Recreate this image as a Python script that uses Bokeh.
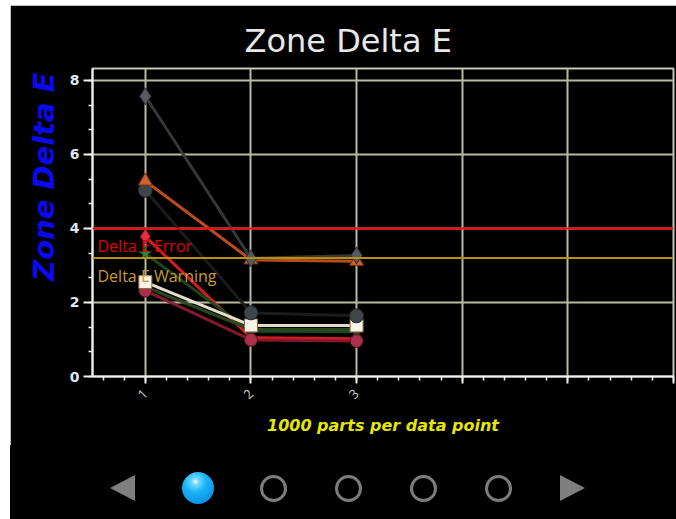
import math
from bokeh.plotting import figure
from bokeh.models import Range1d, SingleIntervalTicker, Span, Label, Title, Div
from bokeh.layouts import column
from bokeh.embed import file_html
from bokeh.resources import INLINE

# ---------------- data ----------------
chart_title = "Zone Delta E"
y_title = "Zone Delta E"
x_title = "1000 parts per data point"
x_points = [1, 2, 3]
x_tick_labels = ["1", "2", "3"]

gray_diamond = [7.57, 3.19, 3.27]
orange_triangle = [5.28, 3.15, 3.11]
dark_circle = [5.03, 1.72, 1.64]
red_diamond = [3.78, 1.05, 1.02]
green_star = [3.32, 1.22, 1.21]
olive_circle = [2.42, 1.27, 1.27]
cream_square = [2.55, 1.38, 1.38]
maroon_circle = [2.32, 0.99, 0.96]

threshold_values = [4.0, 3.2]
threshold_names = ["Delta E Error", "Delta E Warning"]

n_pages = 5
current_page = 0

# ---------------- layout ----------------
MARGIN_TOP = 5
MARGIN_LEFT = 10
W = 666
H_MAIN = 440
H_PAGER = 74
BL = 82   # left border (frame starts here)
BR = 3
BG = "#000000"

p = figure(width=W, height=H_MAIN,
           x_range=Range1d(0.5, 6.0), y_range=Range1d(0, 8.32),
           output_backend="svg", toolbar_location=None,
           min_border_left=BL, min_border_right=BR,
           min_border_top=63, min_border_bottom=69)
p.background_fill_color = BG
p.border_fill_color = BG
p.outline_line_color = "#c8c8b4"
p.outline_line_width = 2

p.title.text = chart_title
p.title.align = "left"
p.title.offset = 152
p.title.standoff = 17
p.title.text_font = "DejaVu Sans"
p.title.text_font_style = "normal"
p.title.text_font_size = "32px"
p.title.text_color = "#e8e8e8"

# y axis title (placed on the left, toward the top)
p.add_layout(Title(text=y_title, align="right", offset=4, standoff=12, text_color="#0a0af0",
                   text_font="DejaVu Sans", text_font_style="bold italic",
                   text_font_size="29px"), "left")

# axes
p.xaxis.ticker = SingleIntervalTicker(interval=1, num_minor_ticks=5)
p.yaxis.ticker = SingleIntervalTicker(interval=2, num_minor_ticks=3)
overrides = {i: "" for i in range(0, 8)}
for xv, lab in zip(x_points, x_tick_labels):
    overrides[xv] = lab
p.xaxis.major_label_overrides = overrides
p.xaxis.major_label_orientation = math.pi / 4

for ax in (p.xaxis, p.yaxis):
    ax.axis_line_color = "#f0f0f0"
    ax.axis_line_width = 2
    ax.major_tick_line_color = "#f0f0f0"
    ax.major_tick_line_width = 2
    ax.minor_tick_line_color = "#f0f0f0"
    ax.minor_tick_line_width = 1.5
    ax.major_tick_in = 0
    ax.minor_tick_in = 0
    ax.minor_tick_out = 4

p.xaxis.major_tick_out = 7
p.yaxis.major_tick_out = 9
p.xaxis.major_label_text_color = "#d0d0d0"
p.xaxis.major_label_text_font_size = "13px"
p.xaxis.major_label_text_font = "Open Sans"
p.xaxis.major_label_standoff = 8
p.yaxis.major_label_text_color = "#dfe4f0"
p.yaxis.major_label_text_font_size = "14px"
p.yaxis.major_label_text_font_style = "bold"
p.yaxis.major_label_text_font = "DejaVu Sans"
p.yaxis.major_label_standoff = 4

p.xaxis.axis_label = x_title
p.xaxis.axis_label_text_color = "#e6e600"
p.xaxis.axis_label_text_font = "DejaVu Sans"
p.xaxis.axis_label_text_font_style = "bold italic"
p.xaxis.axis_label_text_font_size = "16px"
p.xaxis.axis_label_standoff = 10

p.xgrid.grid_line_color = "#b9b9a2"
p.ygrid.grid_line_color = "#b9b9a2"
p.xgrid.grid_line_width = 2
p.ygrid.grid_line_width = 2

# threshold lines
th_line_colors = ["#ff0000", "#b8900c"]
th_text_colors = ["#e00000", "#c89a30"]
for v, name, lc, tc in zip(threshold_values, threshold_names, th_line_colors, th_text_colors):
    p.add_layout(Span(location=v, dimension="width", line_color=lc, line_width=2))
    p.add_layout(Label(x=p.x_range.start, y=v, x_offset=5, y_offset=-7, text=name,
                       text_baseline="top", text_align="left", text_color=tc,
                       text_font="Open Sans", text_font_size="16px"))

# series (bottom to top)
series = [
    (red_diamond, "#e01e24", "diamond", "#e8303c", "#8a1018", 15),
    (green_star, "#1d4a1d", "star", "#3f7e3f", "#1a3a1a", 14),
    (olive_circle, "#2a4a20", "circle", "#35552a", "#1a2a14", 10),
    (maroon_circle, "#8a1a2c", "circle", "#a8304a", "#5a1020", 13),
    (cream_square, "#efe8d6", "square", "#faf4e6", "#8a6a4a", 13),
    (dark_circle, "#1c1c1e", "circle", "#40454c", "#202328", 14),
    (orange_triangle, "#c4501e", "triangle", "#d0602c", "#7a3010", 14),
    (gray_diamond, "#3a3a3c", "diamond", "#555a62", "#2a2d32", 17),
]
for ys, lc, mk, fc, ec, sz in series:
    p.line(x_points, ys, line_color=lc, line_width=3, line_alpha=0.95)
    p.scatter(x_points, ys, marker=mk, size=sz, fill_color=fc, line_color=ec, line_width=1)

# ---------------- pager (HTML, coordinates relative to the pager box) ----------------
spacing = 75
first_x = 188     # centre of first page dot within the pager box
cy = 43
dot_x = [first_x + spacing * i for i in range(n_pages)]
parts = []
lx = dot_x[0] - spacing - 1
rx = dot_x[-1] + spacing - 1
parts.append(f'<div style="position:absolute;left:{lx-12}px;top:{cy-13}px;width:0;height:0;'
             f'border-top:13px solid transparent;border-bottom:13px solid transparent;'
             f'border-right:25px solid #7f7f7f;"></div>')
parts.append(f'<div style="position:absolute;left:{rx-12}px;top:{cy-13}px;width:0;height:0;'
             f'border-top:13px solid transparent;border-bottom:13px solid transparent;'
             f'border-left:25px solid #7f7f7f;"></div>')
for i, x in enumerate(dot_x):
    if i == current_page:
        d = 32
        parts.append(f'<div style="position:absolute;box-sizing:border-box;left:{x-d/2}px;top:{cy-d/2}px;'
                     f'width:{d}px;height:{d}px;border-radius:50%;'
                     f'background:radial-gradient(circle at 42% 30%, #effcff 0%, '
                     f'#6ad6ff 13%, #1ab2f8 38%, #0b94e4 75%, #0674c4 100%);"></div>')
    else:
        d = 27
        parts.append(f'<div style="position:absolute;box-sizing:border-box;left:{x-d/2}px;top:{cy-d/2}px;'
                     f'width:{d}px;height:{d}px;border-radius:50%;border:3.5px solid #7c7c7c;"></div>')
pager_html = (f'<div style="position:relative;width:{W}px;height:{H_PAGER}px;background:#000;">'
              + "".join(parts) + '</div>')
pg = Div(text=pager_html, width=W, height=H_PAGER, margin=0,
         styles={"background-color": "#000000"})

layout = column(p, pg, spacing=0, margin=(MARGIN_TOP, 0, 0, MARGIN_LEFT))
open("out.html", "w").write(file_html(layout, INLINE))
